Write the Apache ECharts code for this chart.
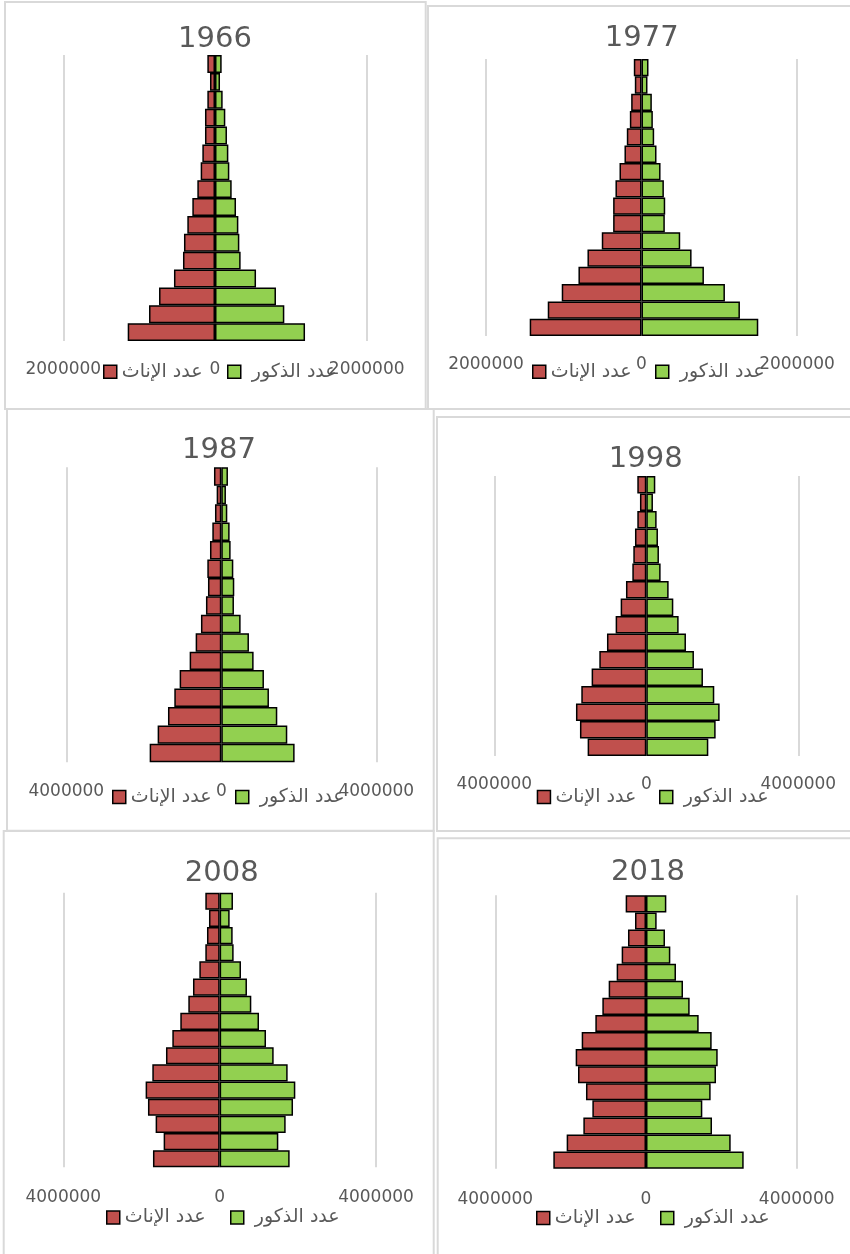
<!DOCTYPE html>
<html>
<head>
<meta charset="utf-8">
<script src="https://cdn.jsdelivr.net/npm/echarts@6/dist/echarts.min.js"></script>
<style>
html,body{margin:0;padding:0;background:#fff;overflow:hidden;}
#chart{width:850px;height:1254px;}
</style>
</head>
<body>
<div id="chart"></div>
<script>
// ---- data (values in persons), age groups from youngest (bottom) to oldest (top)
const ageGroups = ['0-4','5-9','10-14','15-19','20-24','25-29','30-34','35-39','40-44','45-49','50-54','55-59','60-64','65-69','70-74','75+'];
const years = ['1966','1977','1987','1998','2008','2018'];
const axisMax = [2000000, 2000000, 4000000, 4000000, 4000000, 4000000];
const femaleLabel = 'عدد الإناث';
const maleLabel = 'عدد الذكور';

const female1966 = [1151000,870000,738000,541000,422000,409000,365000,299000,233000,189000,167000,132000,132000,101000,66000,101000];
const male1966   = [1187000,914000,804000,541000,338000,321000,308000,277000,220000,189000,176000,158000,136000,101000,66000,88000];
const female1977 = [1438000,1206000,1026000,811000,695000,511000,365000,365000,335000,283000,219000,189000,150000,133000,86000,99000];
const male1977   = [1502000,1266000,1073000,803000,644000,498000,300000,305000,288000,245000,193000,163000,146000,133000,77000,90000];
const female1987 = [1849000,1643000,1376000,1213000,1075000,817000,662000,525000,396000,344000,361000,292000,232000,163000,120000,189000];
const male1987   = [1892000,1703000,1445000,1230000,1101000,834000,714000,499000,327000,335000,310000,241000,215000,155000,120000,172000];
const female1998 = [1544000,1746000,1851000,1711000,1439000,1237000,1035000,807000,675000,535000,368000,342000,298000,237000,167000,237000];
const male1998   = [1632000,1825000,1930000,1789000,1491000,1254000,1044000,851000,711000,588000,377000,333000,307000,272000,175000,237000];
const female2008 = [1706000,1433000,1638000,1834000,1894000,1723000,1373000,1211000,1007000,802000,682000,520000,367000,324000,273000,367000];
const male2008   = [1791000,1501000,1689000,1877000,1936000,1740000,1382000,1186000,1007000,810000,699000,546000,358000,333000,256000,341000];
const female2018 = [2460000,2106000,1663000,1424000,1593000,1805000,1867000,1707000,1345000,1159000,991000,779000,646000,478000,292000,540000];
const male2018   = [2593000,2248000,1752000,1495000,1716000,1858000,1903000,1743000,1398000,1159000,982000,796000,646000,504000,283000,540000];

const femaleData = [female1966, female1977, female1987, female1998, female2008, female2018];
const maleData   = [male1966, male1977, male1987, male1998, male2008, male2018];

// ---- layout (page coordinates)
const layout = [
  {grid:[63.3,55,303.4,286],   title:[215,39],    labelY:370,    legY:371.7, legX:[103,227],    border:[5,2,420.7,407]},
  {grid:[486,59,311,277],      title:[641.7,38],  labelY:365,    legY:371.7, legX:[532,655],    border:[428,6,440,403]},
  {grid:[66.3,467.3,310,295],  title:[219,450.7], labelY:791.7,  legY:797,   legX:[112,235],    border:[7,409,426.7,421.7]},
  {grid:[494.3,476,304,280],   title:[645.7,459.3],labelY:785,   legY:797,   legX:[536.7,659],  border:[437,417,430,414]},
  {grid:[63.3,892.7,312.7,274.6],title:[221.7,873.3],labelY:1198,legY:1217.5,legX:[106,230],    border:[3.7,831,430,440]},
  {grid:[495.3,895.3,301.4,273.4],title:[648,872.7],labelY:1199.3,legY:1218,legX:[536,660],     border:[437.7,838.3,440,440]}
];

const FONT = 'DejaVu Sans';
const TXT = '#595959';
const RED = '#C0504D';
const GREEN = '#92D050';

const grid = [], xAxis = [], yAxis = [], series = [], legend = [], graphic = [];

layout.forEach((L, i) => {
  const [gl, gt, gw, gh] = L.grid;
  const band = gh / ageGroups.length;
  grid.push({left: gl, top: gt, width: gw, height: gh, containLabel: false});
  xAxis.push({
    type: 'value', gridIndex: i, min: -axisMax[i], max: axisMax[i], interval: axisMax[i],
    axisLine: {show: false}, axisTick: {show: false},
    splitLine: {show: true, lineStyle: {color: '#d9d9d9', width: 2}},
    axisLabel: {
      show: true, showMinLabel: true, showMaxLabel: true,
      margin: L.labelY - (gt + gh) - 9,
      color: TXT, fontSize: 17, fontFamily: FONT, lineHeight: 18,
      formatter: v => String(Math.abs(v))
    }
  });
  yAxis.push({
    type: 'category', gridIndex: i, data: ageGroups, boundaryGap: true,
    axisLine: {show: false}, axisTick: {show: false}, axisLabel: {show: false},
    splitLine: {show: false}
  });
  series.push({
    name: femaleLabel, type: 'bar', xAxisIndex: i, yAxisIndex: i,
    data: femaleData[i].map(v => -v),
    barWidth: band, barGap: '-100%',
    itemStyle: {color: RED, borderColor: '#000', borderWidth: 1.5},
    emphasis: {disabled: true}
  });
  series.push({
    name: maleLabel, type: 'bar', xAxisIndex: i, yAxisIndex: i,
    data: maleData[i],
    barWidth: band, barGap: '-100%',
    itemStyle: {color: GREEN, borderColor: '#000', borderWidth: 1.5},
    emphasis: {disabled: true}
  });
  [[femaleLabel, L.legX[0], n => n], [maleLabel, L.legX[1], n => '\u00a0' + n]].forEach(([nm, x, fmt]) => {
    legend.push({
      data: [nm], left: x, top: L.legY - 10, padding: 0,
      itemWidth: 13, itemHeight: 13, itemGap: 5, icon: 'rect',
      selectedMode: false, formatter: fmt,
      itemStyle: {borderColor: '#000', borderWidth: 1.5},
      textStyle: {color: TXT, fontSize: 19, fontFamily: FONT, lineHeight: 20}
    });
  });
  const [bx, by, bw, bh] = L.border;
  graphic.push({
    type: 'rect', silent: true, z: -10,
    shape: {x: bx, y: by, width: bw, height: bh},
    style: {fill: 'none', stroke: '#d9d9d9', lineWidth: 2}
  });
  graphic.push({
    type: 'text', silent: true,
    x: L.title[0], y: L.title[1],
    style: {text: years[i], fill: TXT, font: '29px "' + FONT + '"', textAlign: 'center', textVerticalAlign: 'middle'}
  });
});

const chart = echarts.init(document.getElementById('chart'), null, {renderer: 'canvas'});
chart.setOption({
  animation: false,
  backgroundColor: '#fff',
  grid, xAxis, yAxis, series, legend, graphic
});
</script>
</body>
</html>
